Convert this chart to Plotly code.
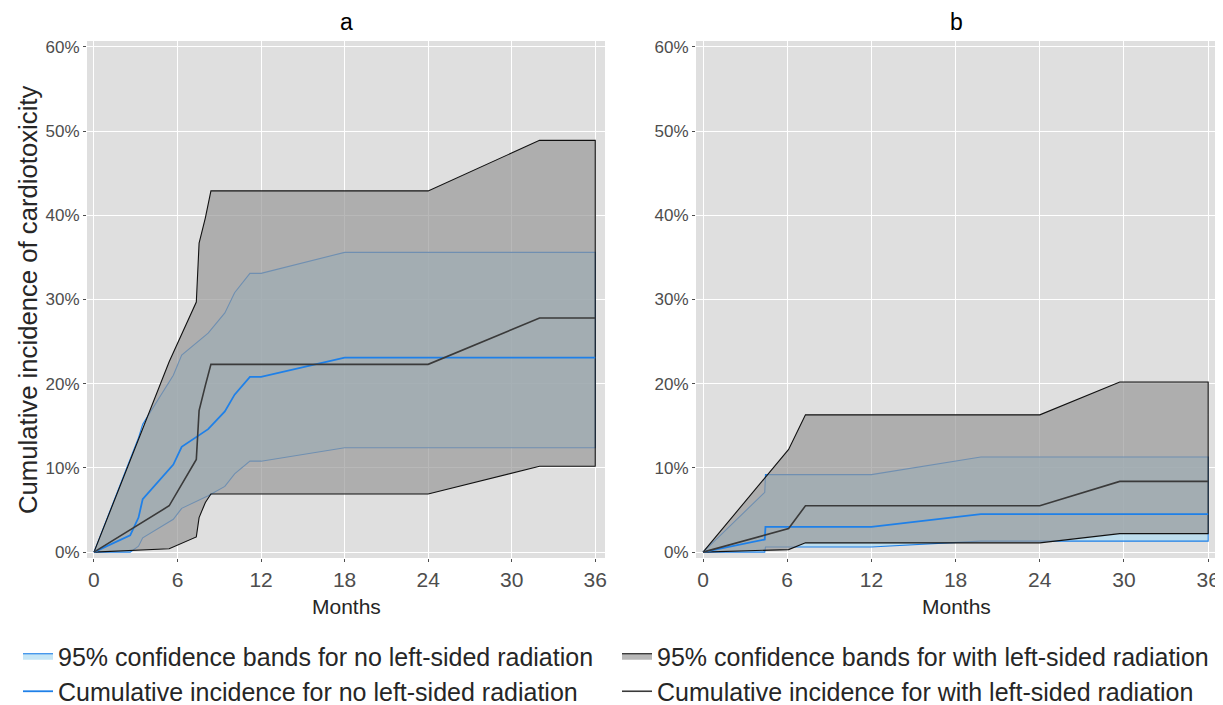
import plotly.graph_objects as go

# ---------------- data (months, cumulative incidence in %) ----------------
# Panel a
a_no_t     = [0, 2.6, 3.2, 3.5, 5.7, 6.3, 8.2, 9.4, 10.1, 11.2, 12.0, 18.0, 36]
a_no_est   = [0, 2.0, 4.1, 6.3, 10.4, 12.5, 14.6, 16.7, 18.7, 20.8, 20.8, 23.1, 23.1]
a_no_upper = [0, 11.0, 13.6, 15.2, 21.0, 23.4, 26.0, 28.4, 30.8, 33.1, 33.1, 35.6, 35.6]
a_no_lower = [0, 0.0, 0.7, 1.7, 3.9, 5.2, 6.7, 7.8, 9.3, 10.8, 10.8, 12.4, 12.4]

a_with_t     = [0, 5.4, 7.35, 7.55, 8.0, 8.4, 24.0, 32.0, 36]
a_with_est   = [0, 5.5, 11.0, 16.8, 19.8, 22.3, 22.3, 27.8, 27.8]
a_with_upper = [0, 22.6, 29.7, 36.7, 39.7, 42.9, 42.9, 48.9, 48.9]
a_with_lower = [0, 0.4, 1.8, 4.1, 5.9, 6.9, 6.9, 10.2, 10.2]

# Panel b
b_no_t     = [0, 4.4, 4.45, 12.0, 19.8, 36]
b_no_est   = [0, 1.5, 3.0, 3.0, 4.5, 4.5]
b_no_upper = [0, 7.1, 9.2, 9.2, 11.3, 11.3]
b_no_lower = [0, 0.0, 0.6, 0.6, 1.3, 1.3]

b_with_t     = [0, 6.1, 7.3, 24.0, 29.7, 36]
b_with_est   = [0, 2.8, 5.5, 5.5, 8.4, 8.4]
b_with_upper = [0, 12.2, 16.3, 16.3, 20.2, 20.2]
b_with_lower = [0, 0.3, 1.1, 1.1, 2.2, 2.2]

x_ticks = [0, 6, 12, 18, 24, 30, 36]
y_ticks = [0, 10, 20, 30, 40, 50, 60]
y_tick_labels = ["0%", "10%", "20%", "30%", "40%", "50%", "60%"]
panel_titles = ["a", "b"]
x_title = "Months"
y_title = "Cumulative incidence of cardiotoxicity"

names = {
    "band_no": "95% confidence bands for no left-sided radiation",
    "band_with": "95% confidence bands for with left-sided radiation",
    "line_no": "Cumulative incidence for no left-sided radiation",
    "line_with": "Cumulative incidence for with left-sided radiation",
}

# ---------------- styles ----------------
FONT = "Liberation Sans, Arial, sans-serif"
BLUE = "#1f80e8"
BAND_NO_FILL = "rgba(176,220,242,0.72)"
BAND_WITH_FILL = "rgba(150,150,150,0.68)"
PANEL_BG = "#dfdfdf"

# page body has an 8px margin: build the figure in screen pixels minus 8
OFF = 8
FW, FH = 1223 - OFF, 705 - OFF


def px(p):
    return (p - OFF) / FW


def py(p):
    return 1 - (p - OFF) / FH


fig = go.Figure()

panels = [
    ("x", "y", a_no_t, a_no_est, a_no_upper, a_no_lower,
     a_with_t, a_with_est, a_with_upper, a_with_lower, True),
    ("x2", "y2", b_no_t, b_no_est, b_no_upper, b_no_lower,
     b_with_t, b_with_est, b_with_upper, b_with_lower, False),
]

for (xa, ya, nt, ne, nu, nl, wt, we, wu, wl, show) in panels:
    fig.add_trace(go.Scatter(
        x=nt + nt[::-1], y=nu + nl[::-1], xaxis=xa, yaxis=ya,
        mode="lines", fill="toself", fillcolor=BAND_NO_FILL,
        line=dict(color=BLUE, width=1.1),
        name=names["band_no"], legendgroup="band_no", showlegend=show,
        hoverinfo="skip"))
    fig.add_trace(go.Scatter(
        x=wt + wt[::-1], y=wu + wl[::-1], xaxis=xa, yaxis=ya,
        mode="lines", fill="toself", fillcolor=BAND_WITH_FILL,
        line=dict(color="#111111", width=1.1),
        name=names["band_with"], legendgroup="band_with", showlegend=show,
        hoverinfo="skip"))
    fig.add_trace(go.Scatter(
        x=nt, y=ne, xaxis=xa, yaxis=ya, mode="lines",
        line=dict(color=BLUE, width=1.8),
        name=names["line_no"], legendgroup="line_no", showlegend=show))
    fig.add_trace(go.Scatter(
        x=wt, y=we, xaxis=xa, yaxis=ya, mode="lines",
        line=dict(color="#3a3a3a", width=1.6),
        name=names["line_with"], legendgroup="line_with", showlegend=show))

ax_a = [px(87), px(605)]
ax_b = [px(696), min(px(1218), 1.0)]
ydom = [py(558), py(41)]

xcommon = dict(range=[-0.5, 36.7], tickvals=x_ticks, showgrid=True,
               gridcolor="white", gridwidth=1.4, zeroline=False,
               showline=False, ticks="outside", ticklen=3, tickcolor="#4d4d4d",
               automargin=False,
               tickfont=dict(family=FONT, size=21, color="#4d4d4d"))
ycommon = dict(range=[-0.7, 60.7], tickvals=y_ticks, ticktext=y_tick_labels,
               showgrid=True, gridcolor="white", gridwidth=1.4, zeroline=False,
               showline=False, ticks="outside", ticklen=3, tickcolor="#4d4d4d",
               automargin=False,
               tickfont=dict(family=FONT, size=17, color="#4d4d4d"))

fig.update_layout(
    template="none",
    width=FW, height=FH,
    margin=dict(l=0, r=0, t=0, b=0, pad=0, autoexpand=False),
    paper_bgcolor="white",
    plot_bgcolor=PANEL_BG,
    font=dict(family=FONT, color="black"),
    xaxis=dict(domain=ax_a, anchor="y", **xcommon),
    yaxis=dict(domain=ydom, anchor="x", **ycommon),
    xaxis2=dict(domain=ax_b, anchor="y2", **xcommon),
    yaxis2=dict(domain=ydom, anchor="x2", **ycommon),
    showlegend=True,
    legend=dict(orientation="h", xref="paper", yref="paper",
                x=10 / FW, xanchor="left", y=py(633),
                yanchor="top", entrywidth=554, entrywidthmode="pixels",
                font=dict(family=FONT, size=25, color="#262626"),
                bgcolor="rgba(0,0,0,0)", traceorder="normal",
                itemwidth=30, tracegroupgap=0),
)

annotations = []
for title, dom in zip(panel_titles, [ax_a, ax_b]):
    cx = (dom[0] + dom[1]) / 2
    annotations.append(dict(text=title, x=cx, y=py(22), xref="paper",
                            yref="paper", showarrow=False,
                            xanchor="center", yanchor="middle",
                            font=dict(family=FONT, size=23, color="black")))
    annotations.append(dict(text=x_title, x=cx, y=py(606), xref="paper",
                            yref="paper", showarrow=False,
                            xanchor="center", yanchor="middle",
                            font=dict(family=FONT, size=21, color="#262626")))
annotations.append(dict(text=y_title, x=px(28), y=py(300),
                        xref="paper", yref="paper", showarrow=False,
                        textangle=-90, xanchor="center", yanchor="middle",
                        font=dict(family=FONT, size=25.7, color="#262626")))
fig.update_layout(annotations=annotations)

fig.write_html("out.html")
